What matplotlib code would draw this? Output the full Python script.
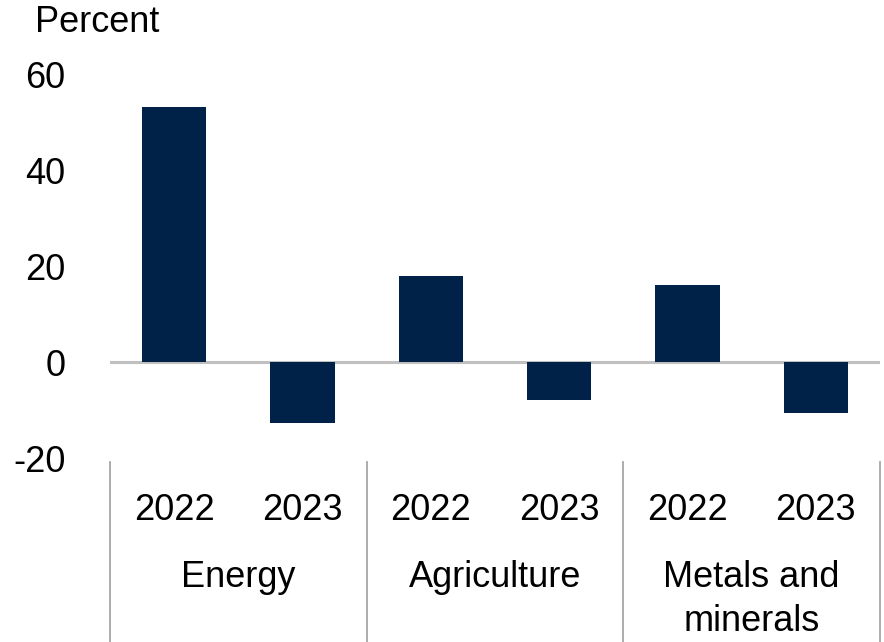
import numpy as np
import matplotlib.pyplot as plt

# valores por grupo (2022, 2023)
categorias = ["Energy", "Agriculture", "Metals and\nminerals"]
anios = ["2022", "2023"]
valores_2022 = [53.3, 18.0, 16.1]
valores_2023 = [-12.6, -7.9, -10.6]

plt.rcParams['font.family'] = ['Liberation Sans', 'DejaVu Sans']
plt.rcParams['axes.unicode_minus'] = False
color_barra = "#002148"

fig = plt.figure(figsize=(8.84, 6.42), dpi=100)
ax = fig.add_axes([0.1244, 0.2866, 0.8711, 0.5966])

# intercalo los valores: E22, E23, A22, A23, M22, M23
valores = []
for a, b in zip(valores_2022, valores_2023):
    valores.append(a)
    valores.append(b)
x = np.arange(len(valores))

ax.bar(x, valores, width=0.5, color=color_barra, zorder=3)
ax.axhline(0, color="#c0c0c0", lw=2.2, zorder=2)

ax.set_xlim(-0.5, len(valores) - 0.5)
ax.set_ylim(-20, 60)
ax.set_yticks([-20, 0, 20, 40, 60])
ax.tick_params(axis="y", length=0, labelsize=26, pad=32)
ax.set_xticks([])
for s in ax.spines.values():
    s.set_visible(False)

# etiquetas de año y de categoría debajo del eje
trans = ax.get_xaxis_transform()
for i in x:
    ax.text(i, -0.136, anios[i % 2], transform=trans, ha="center",
            va="center", fontsize=26)
for k, cat in enumerate(categorias):
    ax.text(2 * k + 0.5, -0.265, cat, transform=trans, ha="center",
            va="top", fontsize=26, linespacing=1.35)

# separadores verticales entre grupos
for xs in [-0.5, 1.5, 3.5, 5.5]:
    ax.plot([xs, xs], [-0.01, -0.48], transform=trans, color="#a6a6a6",
            lw=1.3, clip_on=False)

fig.text(35 / 884, 1 - 23 / 642, "Percent", fontsize=26, va="center",
         ha="left")

fig.savefig("out.png", dpi=100)
